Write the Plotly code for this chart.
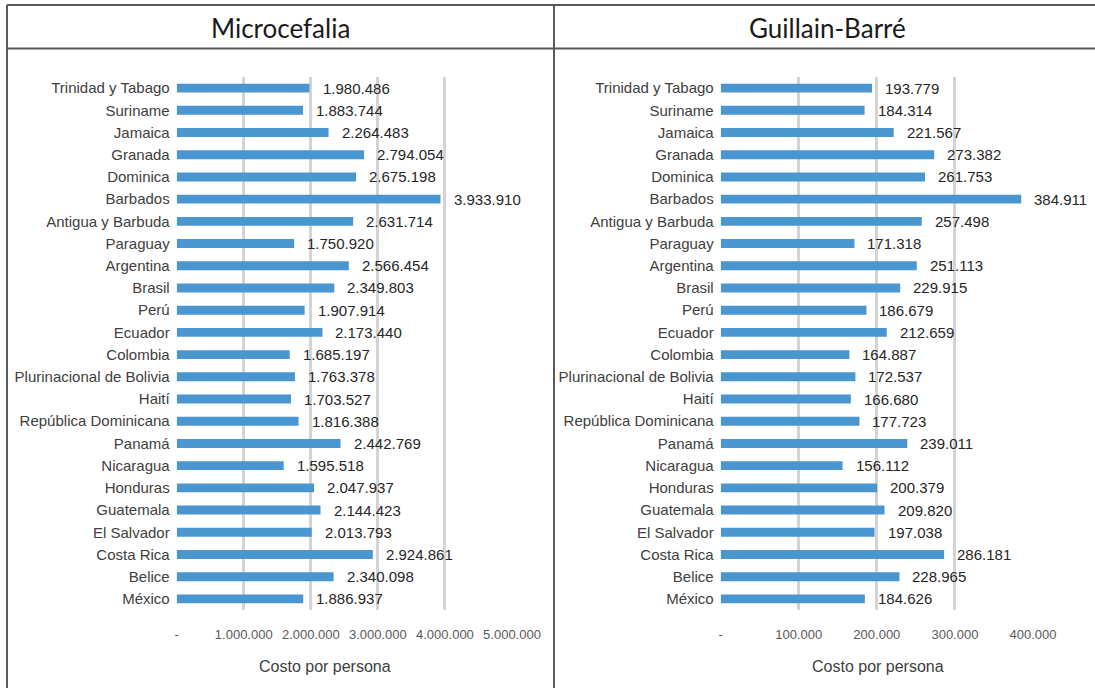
import plotly.graph_objects as go

# Countries, listed top to bottom as drawn
paises = [
    "Trinidad y Tabago", "Suriname", "Jamaica", "Granada", "Dominica",
    "Barbados", "Antigua y Barbuda", "Paraguay", "Argentina", "Brasil",
    "Perú", "Ecuador", "Colombia", "Plurinacional de Bolivia", "Haití",
    "República Dominicana", "Panamá", "Nicaragua", "Honduras", "Guatemala",
    "El Salvador", "Costa Rica", "Belice", "México",
]

# Cost per person, microcephaly
costo_microcefalia = [
    1980486, 1883744, 2264483, 2794054, 2675198,
    3933910, 2631714, 1750920, 2566454, 2349803,
    1907914, 2173440, 1685197, 1763378, 1703527,
    1816388, 2442769, 1595518, 2047937, 2144423,
    2013793, 2924861, 2340098, 1886937,
]

# Cost per person, Guillain-Barré
costo_guillain = [
    193779, 184314, 221567, 273382, 261753,
    384911, 257498, 171318, 251113, 229915,
    186679, 212659, 164887, 172537, 166680,
    177723, 239011, 156112, 200379, 209820,
    197038, 286181, 228965, 184626,
]

ticks_micro = [0, 1000000, 2000000, 3000000, 4000000, 5000000]
ticks_micro_txt = ["-", "1.000.000", "2.000.000", "3.000.000", "4.000.000", "5.000.000"]
ticks_gb = [0, 100000, 200000, 300000, 400000]
ticks_gb_txt = ["-", "100.000", "200.000", "300.000", "400.000"]

titulo_izq = "Microcefalia"
titulo_der = "Guillain-Barré"
titulo_eje = "Costo por persona"

BAR = "#4a96d1"
GRID = "#d4d4d4"
FONT = "Liberation Sans, Arial, sans-serif"
W, H = 1095, 688


def miles(v):
    return f"{v:,}".replace(",", ".")


fig = go.Figure()
fig.add_trace(go.Bar(x=costo_microcefalia, y=paises, orientation="h",
                     marker=dict(color=BAR, line=dict(width=0)),
                     xaxis="x", yaxis="y", hoverinfo="x+y"))
fig.add_trace(go.Bar(x=costo_guillain, y=paises, orientation="h",
                     marker=dict(color=BAR, line=dict(width=0)),
                     xaxis="x2", yaxis="y2", hoverinfo="x+y"))

# value labels next to each bar
annots = []
for serie, xr, yr in ((costo_microcefalia, "x", "y"), (costo_guillain, "x2", "y2")):
    for p, v in zip(paises, serie):
        annots.append(dict(x=v, y=p, xref=xr, yref=yr, text=miles(v),
                           showarrow=False, xanchor="left", yanchor="middle",
                           xshift=11, font=dict(family=FONT, size=15, color="#262626")))

# panel titles
for texto, xc in ((titulo_izq, 280.5), (titulo_der, 827)):
    annots.append(dict(x=xc / W, y=1 - 28 / H, xref="paper", yref="paper",
                       text=texto, showarrow=False, xanchor="center", yanchor="middle",
                       font=dict(family="Lato, Noto Sans, sans-serif", size=26,
                                 color="#1a1a1a")))

# axis titles under each panel
for xc in (325, 878):
    annots.append(dict(x=xc / W, y=1 - 666 / H, xref="paper", yref="paper",
                       text=titulo_eje, showarrow=False, xanchor="center", yanchor="middle",
                       font=dict(family=FONT, size=16, color="#404040")))

# table borders framing both panels
LC = "#5a5a5a"
shapes = [
    dict(type="line", xref="paper", yref="paper", x0=7 / W, x1=1, y0=1 - 5 / H, y1=1 - 5 / H,
         line=dict(color=LC, width=2)),
    dict(type="line", xref="paper", yref="paper", x0=7 / W, x1=1, y0=1 - 48.5 / H, y1=1 - 48.5 / H,
         line=dict(color=LC, width=2)),
    dict(type="line", xref="paper", yref="paper", x0=7 / W, x1=7 / W, y0=0, y1=1 - 5 / H,
         line=dict(color=LC, width=2)),
    dict(type="line", xref="paper", yref="paper", x0=554 / W, x1=554 / W, y0=0, y1=1 - 5 / H,
         line=dict(color=LC, width=2)),
]

ydom = [(H - 610) / H, (H - 77) / H]


def xaxis_cfg(dom, rng, tv, tt, anchor):
    return dict(domain=dom, range=rng, anchor=anchor, tickvals=tv, ticktext=tt,
                showgrid=True, gridcolor=GRID, gridwidth=2.5, zeroline=False,
                showline=False, ticks="outside", ticklen=12, tickcolor="rgba(0,0,0,0)",
                tickfont=dict(family=FONT, size=13, color="#595959"),
                automargin=False, fixedrange=True)


def yaxis_cfg(anchor):
    return dict(domain=ydom, anchor=anchor, type="category", categoryorder="array",
                categoryarray=paises, autorange="reversed", showgrid=False,
                zeroline=False, showline=False, ticks="outside", ticklen=3,
                tickcolor="rgba(0,0,0,0)", automargin=False,
                tickfont=dict(family=FONT, size=15, color="#404040"), fixedrange=True)


fig.update_layout(
    width=W, height=H, margin=dict(l=0, r=0, t=0, b=0, autoexpand=False),
    paper_bgcolor="white", plot_bgcolor="white", showlegend=False,
    bargap=0.6,
    xaxis=xaxis_cfg([176.7 / W, 512 / W], [0, 5000000], ticks_micro, ticks_micro_txt, "y"),
    yaxis=yaxis_cfg("x"),
    xaxis2=xaxis_cfg([720.7 / W, 1033 / W], [0, 400000], ticks_gb, ticks_gb_txt, "y2"),
    yaxis2=yaxis_cfg("x2"),
    annotations=annots, shapes=shapes,
)

fig.write_html("out.html")
